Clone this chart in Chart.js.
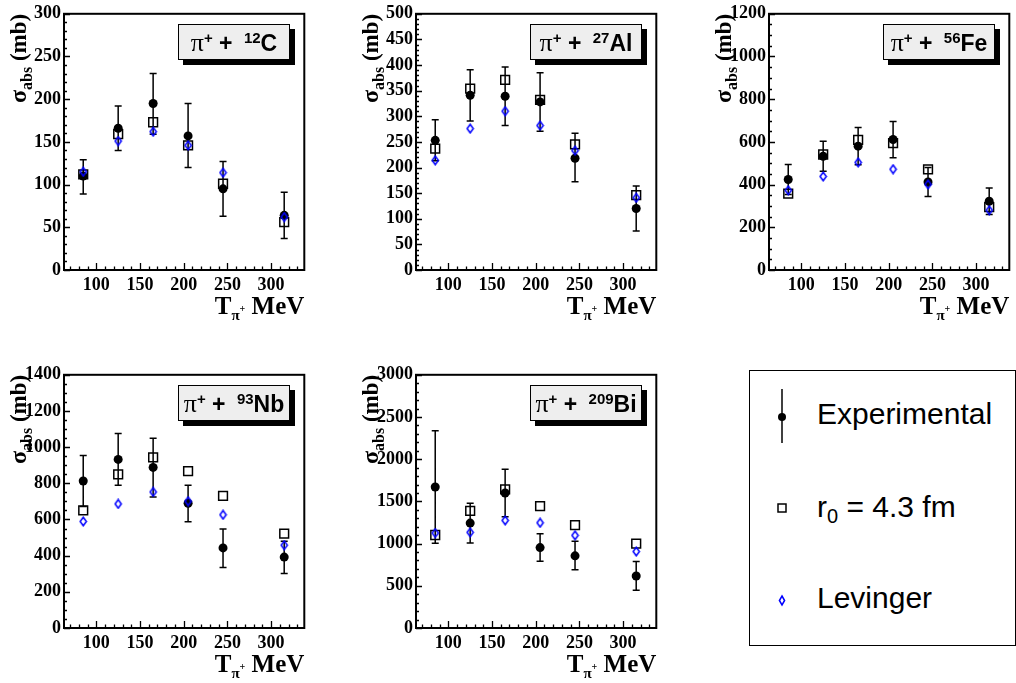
<!DOCTYPE html>
<html>
<head>
<meta charset="utf-8">
<title>Pion absorption cross sections</title>
<script src="https://cdn.jsdelivr.net/npm/chart.js@4.4.1/dist/chart.umd.min.js"></script>
<style>
  body { margin: 0; width: 1016px; height: 683px; background: #fff; position: relative; overflow: hidden; }
  canvas.panel { position: absolute; }
  .tag {
    position: absolute; box-sizing: border-box; width: 112px; height: 36px;
    background: #eeeeee; border: 1px solid #000; box-shadow: 5px 5px 0 #000;
    font: bold 23px "Liberation Sans", Arial, sans-serif; color: #000;
    text-align: center; line-height: 36px; white-space: pre;
  }
  .tag .pi { font: 26px "Liberation Serif", "Times New Roman", serif; }
  .tag sup { font-size: 15px; vertical-align: 8px; line-height: 0; }
  .tag .gap { display: inline-block; width: 5px; }
  #legend {
    position: absolute; left: 749px; top: 370px; width: 267px; height: 276px;
    box-sizing: border-box; border: 1px solid #000; background: #fff;
  }
  #legend svg { position: absolute; left: 0; top: 0; }
  #legend .txt {
    position: absolute; left: 67px; font: 30px "Liberation Sans", Arial, sans-serif;
    line-height: 30px; color: #000; white-space: nowrap;
  }
  #legend .txt sub { font-size: 20px; vertical-align: -6px; line-height: 0; }
</style>
</head>
<body>

<div id="legend">
  <svg width="265" height="274">
    <line x1="32" y1="18" x2="32" y2="72" stroke="#000" stroke-width="1.5"/>
    <circle cx="32" cy="46" r="4" fill="#000"/>
    <rect x="28" y="133" width="8" height="8" fill="none" stroke="#000" stroke-width="1.5"/>
    <path d="M32 225 L34.6 229.5 L32 234 L29.4 229.5 Z" fill="none" stroke="#0000ff" stroke-width="1.5"/>
  </svg>
  <div class="txt" style="top:28px">Experimental</div>
  <div class="txt" style="top:121px">r<sub>0</sub> = 4.3 fm</div>
  <div class="txt" style="top:212px">Levinger</div>
</div>

<script>
// beam kinetic energies (MeV) and axis ticks
const energies = [85, 125, 165, 205, 245, 315];
const xTicks = [100, 150, 200, 250, 300];

// pi+ + 12C
const cExp   = [110, 166, 195, 157, 95, 64];
const cExpHi = [129, 192, 230, 195, 127, 91];
const cExpLo = [89, 140, 159, 120, 63, 37];
const cR0    = [112, 159, 173, 146, 101, 56];
const cLev   = [115, 151, 162, 146, 114, 62];
const cTicks = [0, 50, 100, 150, 200, 250, 300];

// pi+ + 27Al
const alExp   = [253, 341, 339, 328, 218, 120];
const alExpHi = [293, 391, 396, 385, 267, 164];
const alExpLo = [213, 291, 282, 271, 172, 76];
const alR0    = [237, 354, 371, 332, 245, 146];
const alLev   = [214, 276, 310, 282, 233, 141];
const alTicks = [0, 50, 100, 150, 200, 250, 300, 350, 400, 450, 500];

// pi+ + 56Fe
const feExp   = [424, 533, 580, 611, 412, 322];
const feExpHi = [494, 603, 667, 696, 480, 384];
const feExpLo = [354, 463, 493, 526, 344, 260];
const feR0    = [358, 541, 609, 594, 471, 295];
const feLev   = [373, 438, 504, 472, 401, 280];
const feTicks = [0, 200, 400, 600, 800, 1000, 1200];

// pi+ + 93Nb
const nbExp   = [813, 932, 888, 690, 443, 392];
const nbExpHi = [954, 1076, 1049, 789, 547, 480];
const nbExpLo = [672, 789, 725, 588, 335, 302];
const nbR0    = [650, 849, 943, 868, 730, 522];
const nbLev   = [589, 686, 752, 701, 626, 458];
const nbTicks = [0, 200, 400, 600, 800, 1000, 1200, 1400];

// pi+ + 209Bi
const biExp   = [1670, 1243, 1600, 953, 855, 616];
const biExpHi = [2337, 1478, 1882, 1118, 1027, 788];
const biExpLo = [1004, 1008, 1318, 792, 690, 447];
const biR0    = [1102, 1388, 1643, 1443, 1220, 1000];
const biLev   = [1125, 1133, 1275, 1247, 1098, 906];
const biTicks = [0, 500, 1000, 1500, 2000, 2500, 3000];

const panels = [
  { mass: "12",  el: "C",  exp: cExp,  hi: cExpHi,  lo: cExpLo,  r0: cR0,  lev: cLev,  yTicks: cTicks,  yMinor: 10,  x: 0,   y: 0,   h: 258 },
  { mass: "27",  el: "Al", exp: alExp, hi: alExpHi, lo: alExpLo, r0: alR0, lev: alLev, yTicks: alTicks, yMinor: 10,  x: 352, y: 0,   h: 258 },
  { mass: "56",  el: "Fe", exp: feExp, hi: feExpHi, lo: feExpLo, r0: feR0, lev: feLev, yTicks: feTicks, yMinor: 50,  x: 705, y: 0,   h: 258 },
  { mass: "93",  el: "Nb", exp: nbExp, hi: nbExpHi, lo: nbExpLo, r0: nbR0, lev: nbLev, yTicks: nbTicks, yMinor: 50,  x: 0,   y: 361, h: 255 },
  { mass: "209", el: "Bi", exp: biExp, hi: biExpHi, lo: biExpLo, r0: biR0, lev: biLev, yTicks: biTicks, yMinor: 100, x: 352, y: 361, h: 255 },
];

const X_MIN = 63, X_MAX = 338;
const CANVAS_W = 312, CANVAS_H = 340;
const PAD_L = 64, PAD_T = 12, PLOT_W = 246;
const SERIF = '"Liberation Serif", "Times New Roman", serif';
const tickFont = { family: SERIF, weight: "bold", size: 18 };

// open blue diamond used for the Levinger points
function diamondMarker() {
  const c = document.createElement("canvas");
  c.width = 9; c.height = 11;
  const g = c.getContext("2d");
  g.strokeStyle = "#0000ff";
  g.lineWidth = 1.5;
  g.beginPath();
  g.moveTo(4.5, 1.2); g.lineTo(7.6, 5.5); g.lineTo(4.5, 9.8); g.lineTo(1.4, 5.5);
  g.closePath();
  g.stroke();
  return c;
}
const diamond = diamondMarker();

// draws a run of text pieces [text, font, dy] ending at xEnd
function drawRuns(ctx, runs, xEnd, y) {
  let total = 0;
  runs.forEach(r => { ctx.font = r[1]; total += ctx.measureText(r[0]).width; });
  let x = xEnd - total;
  runs.forEach(r => {
    ctx.font = r[1];
    ctx.fillText(r[0], x, y + r[2]);
    x += ctx.measureText(r[0]).width;
  });
}

// frame, inward ticks, error bars and axis titles
const decor = {
  id: "decor",
  beforeDatasetsDraw(chart, args, opts) {
    const { ctx, scales: { x, y } } = chart;
    ctx.save();
    ctx.strokeStyle = "#000";
    ctx.lineWidth = 1.5;
    ctx.beginPath();
    energies.forEach((e, i) => {
      const px = x.getPixelForValue(e);
      const top = y.getPixelForValue(opts.hi[i]);
      const bot = y.getPixelForValue(opts.lo[i]);
      ctx.moveTo(px, top); ctx.lineTo(px, bot);
      ctx.moveTo(px - 3.5, top); ctx.lineTo(px + 3.5, top);
      ctx.moveTo(px - 3.5, bot); ctx.lineTo(px + 3.5, bot);
    });
    ctx.stroke();
    ctx.restore();
  },
  afterDraw(chart, args, opts) {
    const { ctx, chartArea: a, scales: { x, y } } = chart;
    ctx.save();
    ctx.strokeStyle = "#000";
    ctx.lineWidth = 2;
    ctx.strokeRect(a.left, a.top, a.right - a.left, a.bottom - a.top);

    ctx.lineWidth = 1.3;
    ctx.beginPath();
    // x ticks every 10 MeV, longer on the labelled ones
    for (let v = 70; v <= 330; v += 10) {
      const px = Math.round(x.getPixelForValue(v)) + 0.5;
      const len = xTicks.includes(v) ? 7 : 3.5;
      ctx.moveTo(px, a.bottom); ctx.lineTo(px, a.bottom - len);
    }
    // y ticks
    const yMax = opts.yTicks[opts.yTicks.length - 1];
    for (let v = 0; v <= yMax; v += opts.yMinor) {
      const py = Math.round(y.getPixelForValue(v)) + 0.5;
      const len = opts.yTicks.includes(v) ? 6 : 3;
      ctx.moveTo(a.left, py); ctx.lineTo(a.left + len, py);
    }
    ctx.stroke();

    ctx.fillStyle = "#000";
    ctx.textBaseline = "alphabetic";
    // x title
    drawRuns(ctx, [
      ["T", "bold 25px " + SERIF, 0],
      ["\u03c0", "bold 15px " + SERIF, 6],
      ["+", "bold 10px " + SERIF, -2],
      [" MeV", "bold 25px " + SERIF, 0],
    ], a.right, a.bottom + 44);

    // y title, rotated and aligned to the top of the axis
    ctx.translate(a.left - 38, a.top);
    ctx.rotate(-Math.PI / 2);
    drawRuns(ctx, [
      ["\u03c3", "bold 24px " + SERIF, 0],
      ["abs", "bold 16px " + SERIF, 6],
      [" (mb)", "bold 23px " + SERIF, 0],
    ], 0, 0);
    ctx.restore();
  }
};

panels.forEach(p => {
  const canvas = document.createElement("canvas");
  canvas.className = "panel";
  canvas.width = CANVAS_W;
  canvas.height = CANVAS_H;
  canvas.style.left = p.x + "px";
  canvas.style.top = p.y + "px";
  document.body.appendChild(canvas);

  const tag = document.createElement("div");
  tag.className = "tag";
  tag.style.left = (p.x + PAD_L + PLOT_W - 20 - 112) + "px";
  tag.style.top = (p.y + PAD_T + 12) + "px";
  tag.innerHTML = '<span class="pi">\u03c0</span><sup>+</sup> + <span class="gap"></span><sup>' + p.mass + "</sup>" + p.el;
  document.body.appendChild(tag);

  const pts = arr => energies.map((e, i) => ({ x: e, y: arr[i] }));
  const yMax = p.yTicks[p.yTicks.length - 1];

  new Chart(canvas, {
    type: "scatter",
    data: {
      datasets: [
        { label: "Levinger", data: pts(p.lev), pointStyle: diamond, pointRadius: 5 },
        { label: "Experimental", data: pts(p.exp), pointStyle: "circle", pointRadius: 4.5,
          backgroundColor: "#000", borderWidth: 0 },
        { label: "r0 = 4.3 fm", data: pts(p.r0), pointStyle: "rect", pointRadius: 6.2,
          backgroundColor: "rgba(0,0,0,0)", borderColor: "#000", borderWidth: 1.5 },
      ]
    },
    options: {
      responsive: false,
      animation: false,
      devicePixelRatio: 1,
      layout: { padding: { left: 0, top: PAD_T, right: CANVAS_W - PAD_L - PLOT_W, bottom: 0 } },
      plugins: {
        legend: { display: false },
        tooltip: { enabled: false },
        decor: { hi: p.hi, lo: p.lo, yTicks: p.yTicks, yMinor: p.yMinor },
      },
      scales: {
        x: {
          type: "linear", min: X_MIN, max: X_MAX,
          grid: { display: false, drawTicks: false },
          border: { display: false },
          ticks: { color: "#000", padding: 5, maxRotation: 0, font: tickFont, callback: v => String(v) },
          afterBuildTicks: s => { s.ticks = xTicks.map(v => ({ value: v })); },
          afterFit: s => { s.height = CANVAS_H - PAD_T - p.h; },
        },
        y: {
          type: "linear", min: 0, max: yMax,
          grid: { display: false, drawTicks: false },
          border: { display: false },
          ticks: { color: "#000", padding: 3, font: tickFont, callback: v => String(v) },
          afterBuildTicks: s => { s.ticks = p.yTicks.map(v => ({ value: v })); },
          afterFit: s => { s.width = PAD_L; },
        }
      }
    },
    plugins: [decor]
  });
});
</script>
</body>
</html>
